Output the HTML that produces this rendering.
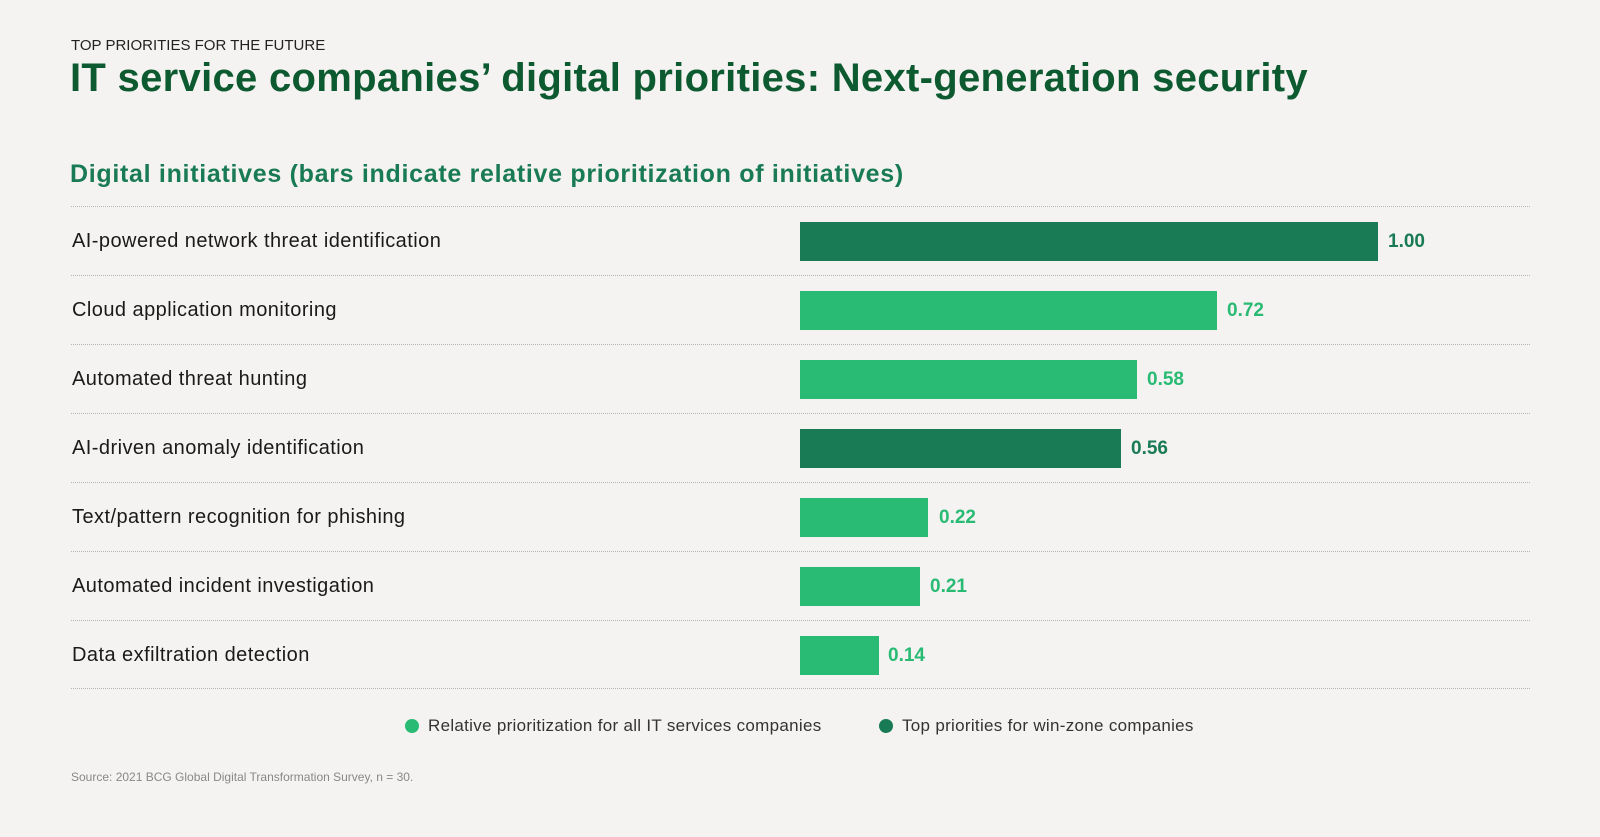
<!DOCTYPE html>
<html><head><style>
body{margin:0;width:1600px;height:837px;background:#f4f3f1;font-family:"Liberation Sans",sans-serif;position:relative;overflow:hidden}
.a{position:absolute;white-space:nowrap}
.line{position:absolute;left:71px;width:1459px;border-top:1.5px dotted #b5b5b5}
.lab{position:absolute;left:72px;font-size:20px;letter-spacing:0.45px;color:#1a1a1a}
.bar{position:absolute;left:800px;height:39px}
.val{position:absolute;font-size:19px;font-weight:bold}
</style></head><body>
<div class="a" style="left:71px;top:37px;font-size:15px;color:#222">TOP PRIORITIES FOR THE FUTURE</div>
<div class="a" style="left:70px;top:56px;font-size:40px;font-weight:bold;color:#0e5a30;letter-spacing:0.3px">IT service companies’ digital priorities: Next-generation security</div>
<div class="a" style="left:70px;top:160px;font-size:25px;font-weight:bold;color:#197a56;letter-spacing:0.7px">Digital initiatives (bars indicate relative prioritization of initiatives)</div>
<div class="line" style="top:206px"></div>
<div class="line" style="top:275px"></div>
<div class="line" style="top:344px"></div>
<div class="line" style="top:413px"></div>
<div class="line" style="top:482px"></div>
<div class="line" style="top:551px"></div>
<div class="line" style="top:620px"></div>
<div class="line" style="top:688px"></div>

<div class="lab" style="top:230px">AI-powered network threat identification</div>
<div class="bar" style="top:222px;width:578px;background:#197a56"></div>
<div class="val" style="left:1388px;top:231px;color:#197a56">1.00</div>

<div class="lab" style="top:299px">Cloud application monitoring</div>
<div class="bar" style="top:291px;width:417px;background:#29ba74"></div>
<div class="val" style="left:1227px;top:300px;color:#29ba74">0.72</div>

<div class="lab" style="top:368px">Automated threat hunting</div>
<div class="bar" style="top:360px;width:337px;background:#29ba74"></div>
<div class="val" style="left:1147px;top:369px;color:#29ba74">0.58</div>

<div class="lab" style="top:437px">AI-driven anomaly identification</div>
<div class="bar" style="top:429px;width:321px;background:#197a56"></div>
<div class="val" style="left:1131px;top:438px;color:#197a56">0.56</div>

<div class="lab" style="top:506px">Text/pattern recognition for phishing</div>
<div class="bar" style="top:498px;width:128px;background:#29ba74"></div>
<div class="val" style="left:939px;top:507px;color:#29ba74">0.22</div>

<div class="lab" style="top:575px">Automated incident investigation</div>
<div class="bar" style="top:567px;width:120px;background:#29ba74"></div>
<div class="val" style="left:930px;top:576px;color:#29ba74">0.21</div>

<div class="lab" style="top:644px">Data exfiltration detection</div>
<div class="bar" style="top:636px;width:79px;background:#29ba74"></div>
<div class="val" style="left:888px;top:645px;color:#29ba74">0.14</div>

<div class="a" style="left:405px;top:719px;width:14px;height:14px;border-radius:50%;background:#29ba74"></div>
<div class="a" style="left:428px;top:716px;font-size:17px;letter-spacing:0.3px;color:#333">Relative prioritization for all IT services companies</div>
<div class="a" style="left:879px;top:719px;width:14px;height:14px;border-radius:50%;background:#197a56"></div>
<div class="a" style="left:902px;top:716px;font-size:17px;letter-spacing:0.3px;color:#333">Top priorities for win-zone companies</div>
<div class="a" style="left:71px;top:770px;font-size:12px;color:#888">Source: 2021 BCG Global Digital Transformation Survey, n = 30.</div>
</body></html>
